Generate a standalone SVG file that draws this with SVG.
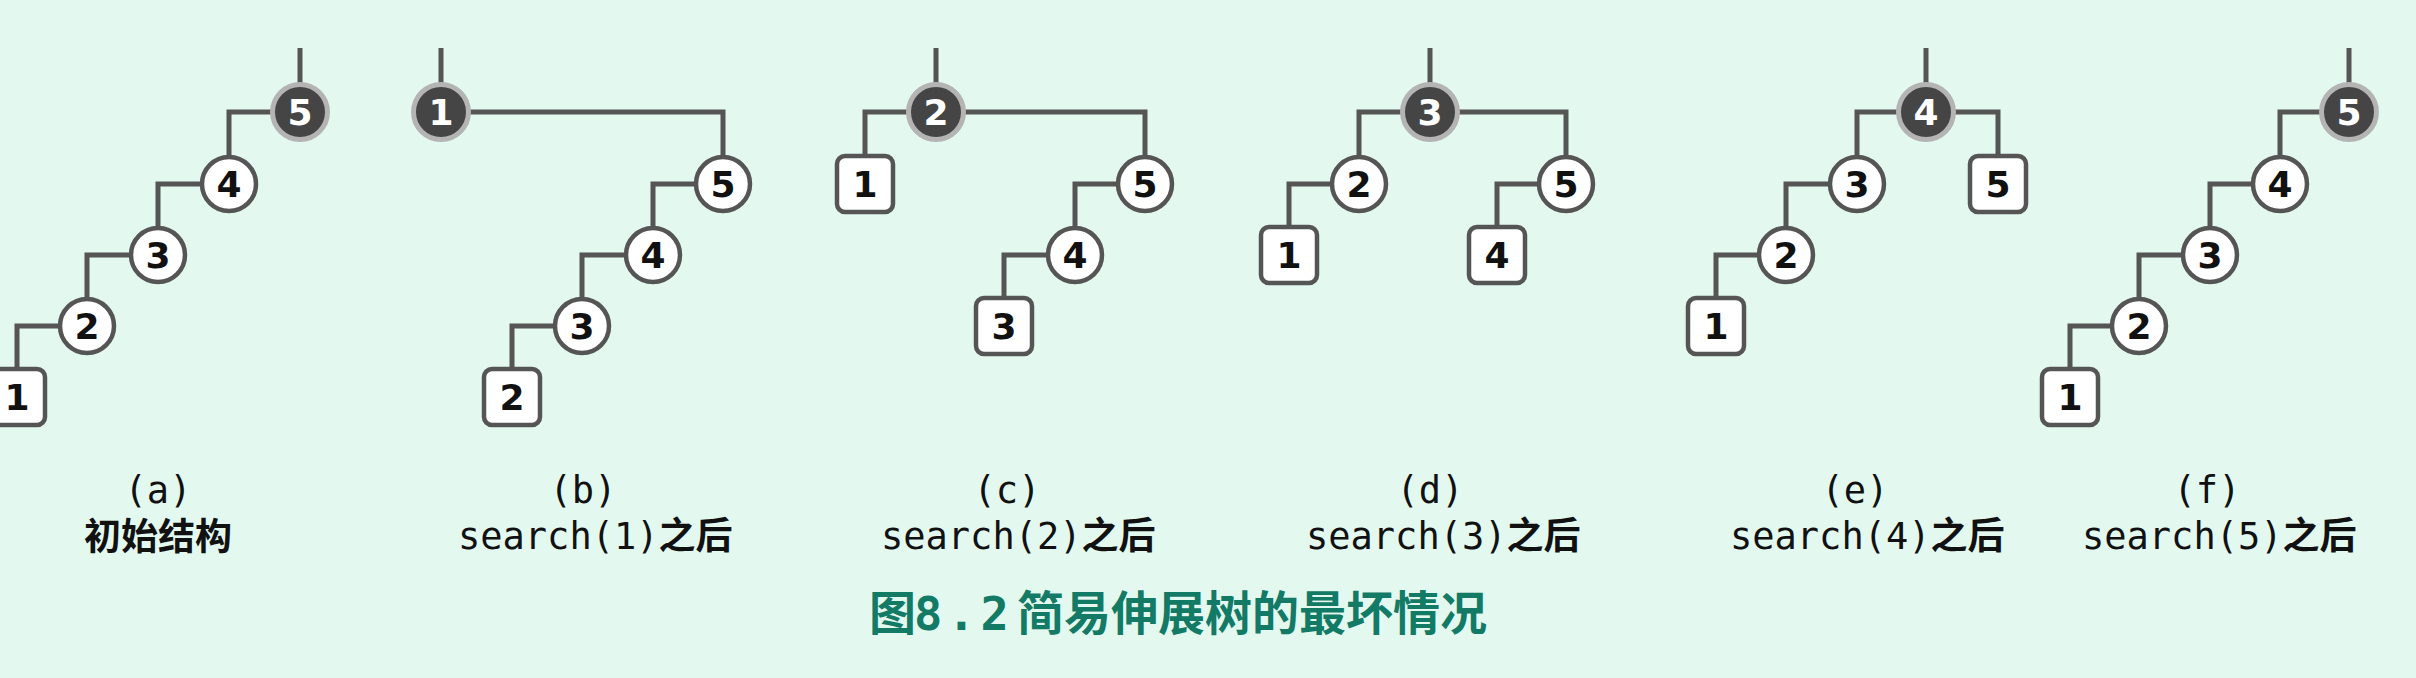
<svg xmlns="http://www.w3.org/2000/svg" width="2416" height="678" viewBox="0 0 2416 678">
<style>
.bg{fill:#e3f9f0}
.e{fill:none;stroke:#555;stroke-width:5;stroke-linejoin:miter}
.n{fill:#fff;stroke:#555;stroke-width:4.5}
.r{fill:#454545;stroke:#b4b4b4;stroke-width:5}
.s{fill:#fff;stroke:#555;stroke-width:4.5}
.t{font-family:"DejaVu Sans",sans-serif;font-weight:bold;font-size:36px;text-anchor:middle;fill:#111}
.tr{fill:#fff}
.lb{font-family:"DejaVu Sans Mono","Noto Sans CJK SC",monospace;font-size:37px;fill:#111}
.cj{font-family:"Noto Sans CJK SC",sans-serif;font-weight:bold}
.ti{font-family:"Noto Sans CJK SC",sans-serif;font-weight:bold;font-size:47px;fill:#137a66}
</style>
<rect class="bg" x="0" y="0" width="2416" height="678"/>
<g id="connectors">
<!-- (a) -->
<path class="e" d="M300 48V112"/>
<path class="e" d="M300 112H229V184"/>
<path class="e" d="M229 184H158V255"/>
<path class="e" d="M158 255H87V326"/>
<path class="e" d="M87 326H17V397"/>
<!-- (b) -->
<path class="e" d="M441 48V112"/>
<path class="e" d="M441 112H723V184"/>
<path class="e" d="M723 184H653V255"/>
<path class="e" d="M653 255H582V326"/>
<path class="e" d="M582 326H512V397"/>
<!-- (c) -->
<path class="e" d="M936 48V112"/>
<path class="e" d="M936 112H865V184"/>
<path class="e" d="M936 112H1145V184"/>
<path class="e" d="M1145 184H1075V255"/>
<path class="e" d="M1075 255H1004V326"/>
<!-- (d) -->
<path class="e" d="M1430 48V112"/>
<path class="e" d="M1430 112H1359V184"/>
<path class="e" d="M1430 112H1566V184"/>
<path class="e" d="M1359 184H1289V255"/>
<path class="e" d="M1566 184H1497V255"/>
<!-- (e) -->
<path class="e" d="M1926 48V112"/>
<path class="e" d="M1926 112H1857V184"/>
<path class="e" d="M1926 112H1998V184"/>
<path class="e" d="M1857 184H1786V255"/>
<path class="e" d="M1786 255H1716V326"/>
<!-- (f) -->
<path class="e" d="M2349 48V112"/>
<path class="e" d="M2349 112H2280V184"/>
<path class="e" d="M2280 184H2210V255"/>
<path class="e" d="M2210 255H2139V326"/>
<path class="e" d="M2139 326H2070V397"/>
</g>
<!-- tree a -->
<g id="a5"><circle class="r" cx="300" cy="112" r="27.5"/><text class="t tr" x="300" y="125">5</text></g>
<g id="a4"><circle class="n" cx="229" cy="184" r="27"/><text class="t" x="229" y="197">4</text></g>
<g id="a3"><circle class="n" cx="158" cy="255" r="27"/><text class="t" x="158" y="268">3</text></g>
<g id="a2"><circle class="n" cx="87" cy="326" r="27"/><text class="t" x="87" y="339">2</text></g>
<g id="a1"><rect class="s" x="-11" y="369" width="56" height="56" rx="8"/><text class="t" x="17" y="410">1</text></g>
<!-- tree b -->
<g id="b1"><circle class="r" cx="441" cy="112" r="27.5"/><text class="t tr" x="441" y="125">1</text></g>
<g id="b5"><circle class="n" cx="723" cy="184" r="27"/><text class="t" x="723" y="197">5</text></g>
<g id="b4"><circle class="n" cx="653" cy="255" r="27"/><text class="t" x="653" y="268">4</text></g>
<g id="b3"><circle class="n" cx="582" cy="326" r="27"/><text class="t" x="582" y="339">3</text></g>
<g id="b2"><rect class="s" x="484" y="369" width="56" height="56" rx="8"/><text class="t" x="512" y="410">2</text></g>
<!-- tree c -->
<g id="c2"><circle class="r" cx="936" cy="112" r="27.5"/><text class="t tr" x="936" y="125">2</text></g>
<g id="c1"><rect class="s" x="837" y="156" width="56" height="56" rx="8"/><text class="t" x="865" y="197">1</text></g>
<g id="c5"><circle class="n" cx="1145" cy="184" r="27"/><text class="t" x="1145" y="197">5</text></g>
<g id="c4"><circle class="n" cx="1075" cy="255" r="27"/><text class="t" x="1075" y="268">4</text></g>
<g id="c3"><rect class="s" x="976" y="298" width="56" height="56" rx="8"/><text class="t" x="1004" y="339">3</text></g>
<!-- tree d -->
<g id="d3"><circle class="r" cx="1430" cy="112" r="27.5"/><text class="t tr" x="1430" y="125">3</text></g>
<g id="d2"><circle class="n" cx="1359" cy="184" r="27"/><text class="t" x="1359" y="197">2</text></g>
<g id="d5"><circle class="n" cx="1566" cy="184" r="27"/><text class="t" x="1566" y="197">5</text></g>
<g id="d1"><rect class="s" x="1261" y="227" width="56" height="56" rx="8"/><text class="t" x="1289" y="268">1</text></g>
<g id="d4"><rect class="s" x="1469" y="227" width="56" height="56" rx="8"/><text class="t" x="1497" y="268">4</text></g>
<!-- tree e -->
<g id="e4"><circle class="r" cx="1926" cy="112" r="27.5"/><text class="t tr" x="1926" y="125">4</text></g>
<g id="e3"><circle class="n" cx="1857" cy="184" r="27"/><text class="t" x="1857" y="197">3</text></g>
<g id="e5"><rect class="s" x="1970" y="156" width="56" height="56" rx="8"/><text class="t" x="1998" y="197">5</text></g>
<g id="e2"><circle class="n" cx="1786" cy="255" r="27"/><text class="t" x="1786" y="268">2</text></g>
<g id="e1"><rect class="s" x="1688" y="298" width="56" height="56" rx="8"/><text class="t" x="1716" y="339">1</text></g>
<!-- tree f -->
<g id="f5"><circle class="r" cx="2349" cy="112" r="27.5"/><text class="t tr" x="2349" y="125">5</text></g>
<g id="f4"><circle class="n" cx="2280" cy="184" r="27"/><text class="t" x="2280" y="197">4</text></g>
<g id="f3"><circle class="n" cx="2210" cy="255" r="27"/><text class="t" x="2210" y="268">3</text></g>
<g id="f2"><circle class="n" cx="2139" cy="326" r="27"/><text class="t" x="2139" y="339">2</text></g>
<g id="f1"><rect class="s" x="2042" y="369" width="56" height="56" rx="8"/><text class="t" x="2070" y="410">1</text></g>
<!-- labels -->
<g id="labels">
<text class="lb" x="158" y="503" text-anchor="middle">(a)</text>
<text class="lb cj" x="158" y="550" text-anchor="middle" font-size="38">初始结构</text>
<text class="lb" x="583" y="503" text-anchor="middle">(b)</text>
<text class="lb" x="458" y="549">search(1)<tspan class="cj">之后</tspan></text>
<text class="lb" x="1007" y="503" text-anchor="middle">(c)</text>
<text class="lb" x="881" y="549">search(2)<tspan class="cj">之后</tspan></text>
<text class="lb" x="1430" y="503" text-anchor="middle">(d)</text>
<text class="lb" x="1306" y="549">search(3)<tspan class="cj">之后</tspan></text>
<text class="lb" x="1855" y="503" text-anchor="middle">(e)</text>
<text class="lb" x="1730" y="549">search(4)<tspan class="cj">之后</tspan></text>
<text class="lb" x="2207" y="503" text-anchor="middle">(f)</text>
<text class="lb" x="2082" y="549">search(5)<tspan class="cj">之后</tspan></text>
</g>
<g id="title">
<text class="ti" x="869" y="630">图<tspan x="914" font-family="DejaVu Sans Mono,monospace" letter-spacing="5">8.2</tspan><tspan x="1017">简易伸展树的最坏情况</tspan></text>
</g>
</svg>
